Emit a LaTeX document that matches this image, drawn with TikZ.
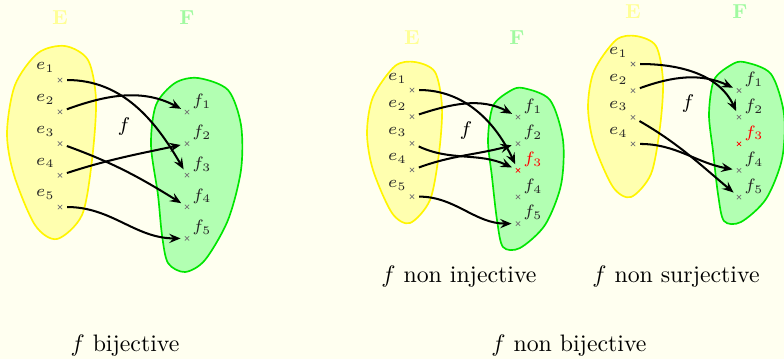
\RequirePackage{fix-cm}
\documentclass[tikz,border=0pt]{standalone}
\usetikzlibrary{arrows.meta,shapes.misc}
\definecolor{bgc}{RGB}{255,255,240}
\definecolor{Ecol}{RGB}{255,255,150}
\definecolor{Fcol}{RGB}{160,250,160}
\definecolor{yfill}{RGB}{255,255,175}
\definecolor{gfill}{RGB}{178,255,178}
\definecolor{gline}{RGB}{0,230,0}
\definecolor{yline}{RGB}{255,245,0}
\begin{document}
\begin{tikzpicture}[x=0.42pt,y=-0.42pt,
  xpt/.style={cross out, draw=black!55, line width=0.3pt, minimum size=1.8pt, inner sep=0pt, outer sep=0pt},
  redpt/.style={xpt, draw=red},
  lab/.style={inner sep=0pt, font=\fontsize{6.9}{7}\selectfont, text=black!85},
  redlab/.style={lab, text=red},
  setE/.style={font=\fontsize{8.5}{9}\selectfont\bfseries, text=Ecol},
  setF/.style={font=\fontsize{8.5}{9}\selectfont\bfseries, text=Fcol},
  fun/.style={font=\fontsize{8.3}{9}\selectfont},
  captxt/.style={font=\normalsize},
  arr/.style={line width=0.85pt, shorten <=2.1pt, shorten >=1.8pt, -{Stealth[length=4.8pt,width=3.9pt,inset=1.8pt]}},
  yblob/.style={draw=yline, fill=yfill, line width=0.7pt},
  gblob/.style={draw=gline, fill=gfill, line width=0.7pt}]
\fill[bgc] (0,0) rectangle (784,359);
\useasboundingbox (0,0) rectangle (784,359);

% ---------- panel A : bijective ----------
\draw[yblob] plot[smooth cycle] coordinates {(65,46) (88,60) (96,100) (92,160) (82,215) (57,239) (35,225) (14,175) (7,133) (15,85) (38,53)};
\draw[gblob] plot[smooth cycle] coordinates {(198,78) (228,90) (241,125) (241,170) (228,220) (205,260) (185,272) (168,263) (162,235) (158,195) (151,145) (156,105) (175,83)};
\node[setE] (AE) at (60,18) {E};
\node[setF] (AF) at (187,18) {F};
\node[fun] (Afun) at (124,127) {$f$};
\foreach \i in {1,...,5} {
  \node[xpt] (Ae\i) at (60,{80+31.75*(\i-1)}) {};
  \node[lab,anchor=south east] (Ael\i) at ([shift={(-5,-7)}]Ae\i.center) {$e_{\i}$};
  \node[xpt] (Af\i) at (187,{112+31.6*(\i-1)}) {};
  \node[lab,anchor=south west] (Afl\i) at ([shift={(5,-3)}]Af\i.center) {$f_{\i}$};
}
\draw[arr] (Ae1) to[out=0,in=120] (Af3);
\draw[arr] (Ae2) to[out=20,in=152] (Af1);
\draw[arr] (Ae3) to[out=-20,in=148] (Af4);
\draw[arr] (Ae4) to[out=18,in=-168] (Af2);
\draw[arr] (Ae5) to[out=0,in=180] (Af5);
\node[captxt] (Acap) at (125,346) {$f$ bijective};

% ---------- panel B : non injective ----------
\draw[yblob] plot[smooth cycle] coordinates {(415,62) (435,72) (442,107) (439,153) (430,200) (410,223) (392,213) (373,170) (367,133) (373,97) (395,66)};
\draw[gblob] plot[smooth cycle] coordinates {(523,88) (550,100) (563,140) (561,185) (545,225) (520,248) (503,247) (497,220) (492,177) (488,140) (493,106) (510,91)};
\node[setE] (BE) at (412,38) {E};
\node[setF] (BF) at (517,38) {F};
\node[fun] (Bfun) at (466,131) {$f$};
\foreach \i in {1,...,5} {
  \node[xpt] (Be\i) at (412,{90+26.65*(\i-1)}) {};
  \node[lab,anchor=south east] (Bel\i) at ([shift={(-5,-6)}]Be\i.center) {$e_{\i}$};
}
\foreach \i in {1,2,4,5} {
  \node[xpt] (Bf\i) at (518,{117+26.65*(\i-1)}) {};
  \node[lab,anchor=south west] (Bfl\i) at ([shift={(5,-3)}]Bf\i.center) {$f_{\i}$};
}
\node[redpt] (Bf3) at (518,170.3) {};
\node[redlab,anchor=south west] (Bfl3) at ([shift={(5,-3)}]Bf3.center) {$f_3$};
\draw[arr] (Be1) to[out=0,in=115] (Bf3);
\draw[arr] (Be2) to[out=18,in=152] (Bf1);
\draw[arr] (Be3) to[out=-25,in=155] (Bf3);
\draw[arr] (Be4) to[out=20,in=-165] (Bf2);
\draw[arr] (Be5) to[out=0,in=180] (Bf5);
\node[captxt] (Bcap) at (459,277) {$f$ non injective};

% ---------- panel C : non surjective ----------
\begin{scope}[shift={(221,-26)}]
\draw[yblob] plot[smooth cycle] coordinates {(415,62) (435,72) (442,107) (439,153) (430,200) (410,223) (392,213) (373,170) (367,133) (373,97) (395,66)};
\draw[gblob] plot[smooth cycle] coordinates {(523,88) (550,100) (563,140) (561,185) (545,225) (520,248) (503,247) (497,220) (492,177) (488,140) (493,106) (510,91)};
\end{scope}
\node[setE] (CE) at (633,12) {E};
\node[setF] (CF) at (740,12) {F};
\node[fun] (Cfun) at (688,104) {$f$};
\foreach \i in {1,...,4} {
  \node[xpt] (Ce\i) at (633,{64+26.65*(\i-1)}) {};
  \node[lab,anchor=south east] (Cel\i) at ([shift={(-5,-6)}]Ce\i.center) {$e_{\i}$};
}
\foreach \i in {1,2,4,5} {
  \node[xpt] (Cf\i) at (739,{90.5+26.65*(\i-1)}) {};
  \node[lab,anchor=south west] (Cfl\i) at ([shift={(5,-3)}]Cf\i.center) {$f_{\i}$};
}
\node[redpt] (Cf3) at (739,143.8) {};
\node[redlab,anchor=south west] (Cfl3) at ([shift={(5,-3)}]Cf3.center) {$f_3$};
\draw[arr] (Ce1) to[out=0,in=115] (Cf2);
\draw[arr] (Ce2) to[out=20,in=155] (Cf1);
\draw[arr] (Ce3) to[out=-30,in=140] (Cf5);
\draw[arr] (Ce4) to[out=0,in=170] (Cf4);
\node[captxt] (Ccap) at (676,277) {$f$ non surjective};

\node[captxt] (Dcap) at (569,346) {$f$ non bijective};
\end{tikzpicture}
\end{document}
